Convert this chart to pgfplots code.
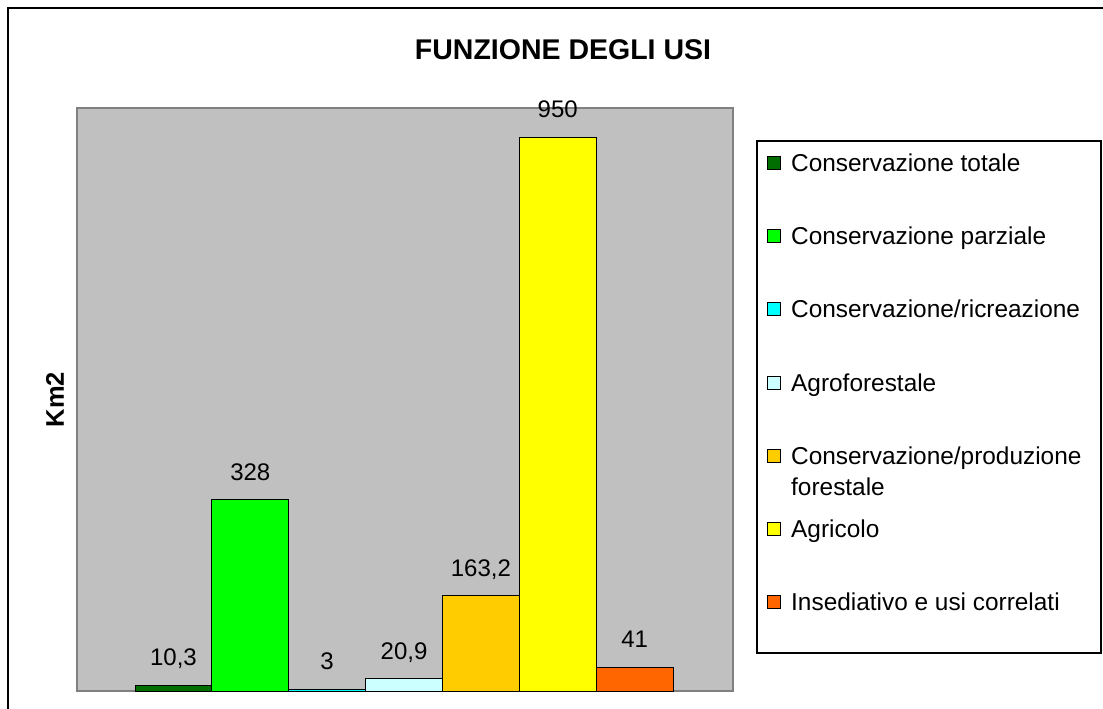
\documentclass[border=0pt]{standalone}
\usepackage{fontspec}
\setmainfont{Liberation Sans}
\usepackage{pgfplots}
\pgfplotsset{compat=1.18}
\definecolor{cTot}{RGB}{0,110,0}
\definecolor{cPar}{RGB}{0,255,0}
\definecolor{cRic}{RGB}{0,255,255}
\definecolor{cAgf}{RGB}{204,255,255}
\definecolor{cPro}{RGB}{255,204,0}
\definecolor{cAgr}{RGB}{255,255,0}
\definecolor{cIns}{RGB}{255,102,0}
\definecolor{bgGray}{RGB}{192,192,192}
\definecolor{bdGray}{RGB}{128,128,128}
\begin{document}
\begin{tikzpicture}
\useasboundingbox (0pt,0pt) rectangle (1103pt,-709pt);
\fill[white] (0pt,0pt) rectangle (1103pt,-709pt);
\draw[black, line width=1.8pt] (8pt,-8pt) rectangle (1130pt,-740pt);
\begin{axis}[
  at={(77pt,-691pt)}, anchor=south west,
  scale only axis, width=656pt, height=583pt,
  xmin=-1.2546, xmax=7.28, ymin=0, ymax=1000,
  axis background/.style={fill=bgGray},
  axis line style={draw=bdGray, line width=1.2pt},
  ticks=none, clip=false,
  ylabel={\fontsize{25.5}{30}\selectfont\bfseries Km2},
  every axis y label/.style={at={(axis description cs:-0.0335,0.5)}, rotate=90, anchor=center},
  point meta=explicit symbolic,
  nodes near coords,
  every node near coord/.style={anchor=base, yshift=19.5pt, font=\fontsize{24}{28}\selectfont, text=black},
  every axis plot/.append style={ybar, bar width=1, bar shift=0pt, draw=black, line width=0.8pt},
]
\addplot[fill=cTot] coordinates {(0,10.3) [10,3]};
\addplot[fill=cPar] coordinates {(1,328) [328]};
\addplot[fill=cRic] coordinates {(2,3) [3]};
\addplot[fill=cAgf] coordinates {(3,20.9) [20,9]};
\addplot[fill=cPro] coordinates {(4,163.2) [163,2]};
\addplot[fill=cAgr] coordinates {(5,950) [950]};
\addplot[fill=cIns] coordinates {(6,41) [41]};
\end{axis}
\node[anchor=center, font=\fontsize{28.5}{33}\selectfont\bfseries] at (563pt,-50pt) {FUNZIONE DEGLI USI};
% legend
\draw[black, line width=1.3pt] (757pt,-141pt) rectangle (1101pt,-653pt);
\foreach \c/\yc/\t in {cTot/163/{Conservazione totale},cPar/236/{Conservazione parziale},cRic/309/{Conservazione/ricreazione},cAgf/383/{Agroforestale},cPro/456/{Conservazione/produzione},cAgr/529/{Agricolo},cIns/602/{Insediativo e usi correlati}}{
  \filldraw[fill=\c, draw=black, line width=0.8pt] (767pt,-\yc pt+6.5pt) rectangle (780pt,-\yc pt-6.5pt);
  \node[anchor=base west, inner sep=0pt, font=\fontsize{24.4}{28}\selectfont] at (791pt,-\yc pt-8.5pt) {\t};
}
\node[anchor=base west, inner sep=0pt, font=\fontsize{24.4}{28}\selectfont] at (791pt,-495.5pt) {forestale};
\end{tikzpicture}
\end{document}
